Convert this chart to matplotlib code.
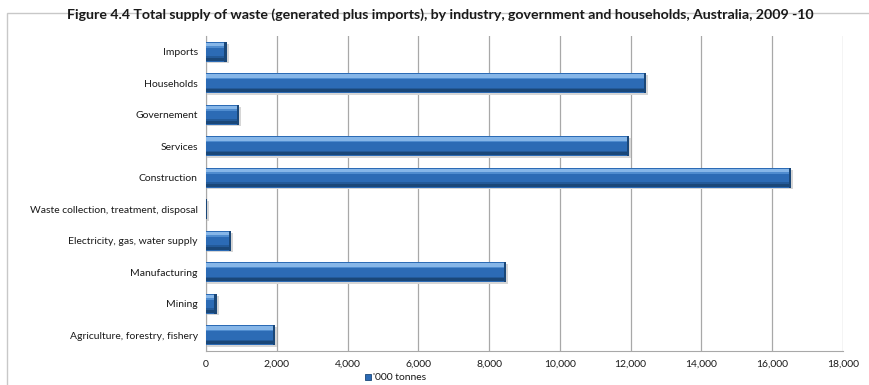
import matplotlib
matplotlib.use("Agg")
import matplotlib.pyplot as plt
from matplotlib.patches import Rectangle
import numpy as np

# categories bottom -> top, values in '000 tonnes
CATEGORIES = ["Agriculture, forestry, fishery", "Mining", "Manufacturing",
              "Electricity, gas, water supply", "Waste collection, treatment, disposal",
              "Construction", "Services", "Governement", "Households", "Imports"]
VALUES = [1945, 300, 8470, 715, 20, 16530, 11955, 940, 12430, 580]
X_TICKS = [0, 2000, 4000, 6000, 8000, 10000, 12000, 14000, 16000, 18000]

TITLE = ("Figure 4.4 Total supply of waste (generated plus imports), by industry, "
         "government and households, Australia, 2009 -10")
LEGEND = "'000 tonnes"

FONT = ["Lato", "DejaVu Sans"]
INK, GRID = "#1a1a1a", "#a8a8a8"
MID, LIGHT, DARK, SHADOW = "#2c6bb5", "#86b6e8", "#1a4778", "#d6d6d6"

plt.rcParams["font.family"] = FONT

fig = plt.figure(figsize=(8.69, 3.85), dpi=100)
fig.patches.append(Rectangle((7 / 869, -0.05), 1.1, 1.05 - 13 / 385,
                             transform=fig.transFigure, fill=False,
                             edgecolor="#c8c8c8", lw=1.0))
ax = fig.add_axes([206 / 869, 1 - 351 / 385, 637 / 869, 315 / 385])

y = np.arange(len(CATEGORIES))
h = 0.62
vals = np.array(VALUES)
# soft drop shadow
ax.barh(y - 0.05, vals + 60, height=h, left=0, color=SHADOW, zorder=2)
# main bar with a rough bevel: light top, mid body, dark bottom
ax.barh(y, vals, height=h, color=MID, zorder=3)
ax.barh(y + h * 0.36, vals, height=h * 0.18, color=LIGHT, zorder=4)
ax.barh(y + h * 0.24, vals, height=h * 0.08, color="#4f8ccf", zorder=4)
ax.barh(y - h * 0.38, vals, height=h * 0.16, color=DARK, zorder=4)
ax.barh(y - h * 0.27, vals, height=h * 0.08, color="#235a99", zorder=4)
# dark right edge
ax.barh(y, np.minimum(vals, 60), left=vals - np.minimum(vals, 60), height=h,
        color=DARK, zorder=5)

ax.set_xlim(0, 18000)
ax.set_ylim(-0.5, len(CATEGORIES) - 0.5)
ax.set_xticks(X_TICKS, [f"{t:,}" for t in X_TICKS], fontsize=7.5, color=INK)
ax.set_yticks(y, CATEGORIES, fontsize=7.5, color=INK)
ax.tick_params(axis="x", length=0, pad=6.5)
ax.tick_params(axis="y", length=0, pad=6)
ax.xaxis.grid(True, color=GRID, lw=0.9)
ax.set_axisbelow(True)
for side in ("top", "right"):
    ax.spines[side].set_visible(False)
ax.spines["left"].set_color(GRID)
ax.spines["bottom"].set_color(GRID)

fig.text(440 / 869, 1 - 15 / 385, TITLE, ha="center", va="center",
         fontsize=10.2, fontweight="bold", color=INK)

# legend
fig.patches.append(Rectangle((365 / 869, 1 - 380 / 385), 6 / 869, 6 / 385,
                             transform=fig.transFigure, facecolor=MID,
                             edgecolor=DARK, lw=0.6))
fig.text(373 / 869, 1 - 377 / 385, LEGEND, ha="left", va="center",
         fontsize=7.5, color=INK)

fig.savefig("out.png", dpi=100, facecolor="white")
